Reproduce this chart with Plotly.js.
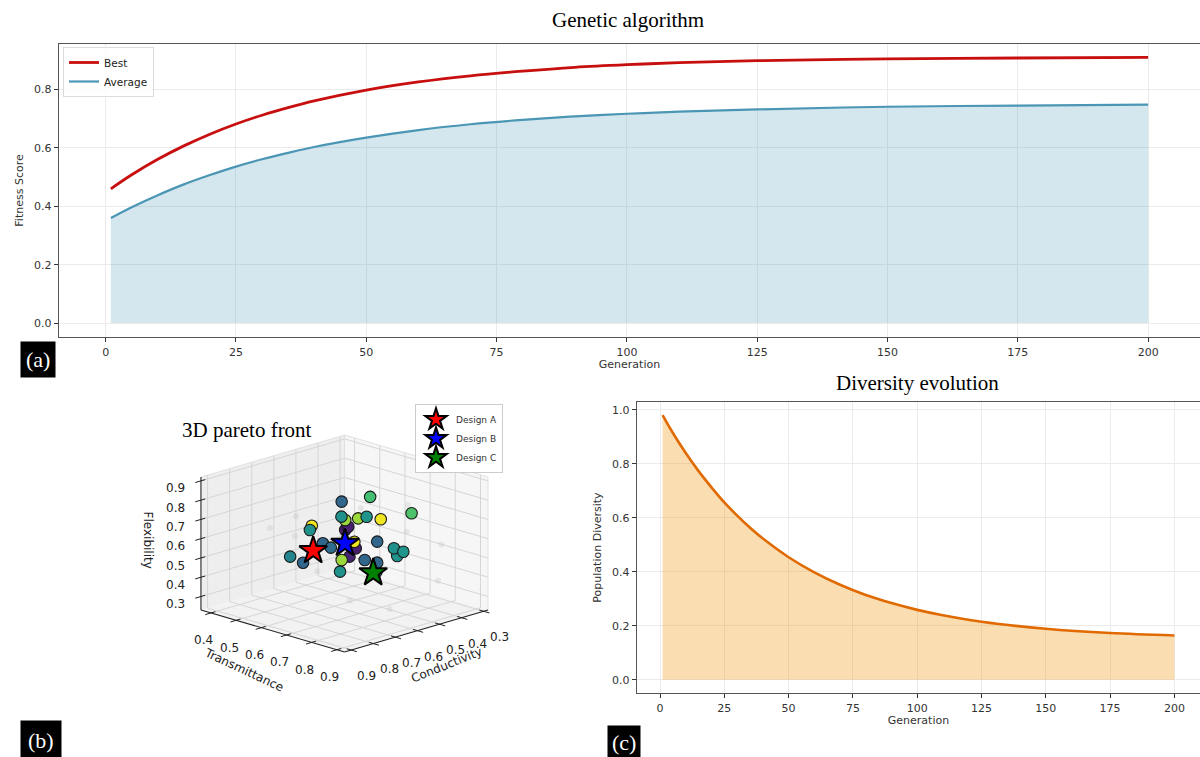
<!DOCTYPE html>
<html>
<head>
<meta charset="utf-8">
<script src="https://cdn.plot.ly/plotly-3.0.1.min.js"></script>
<style>
html,body{margin:0;padding:0;background:#fff;}
#chart{width:1200px;height:757px;}
</style>
</head>
<body>
<div id="chart"></div>
<script>
// ---------- (a) Genetic algorithm ----------
const generations = [1,5,10,15,20,25,30,35,40,50,60,70,80,90,100,110,125,150,175,200];
const bestFitness = [0.46,0.508,0.561,0.607,0.647,0.682,0.712,0.738,0.761,0.798,0.826,0.847,0.863,0.876,0.885,0.892,0.899,0.905,0.908,0.910];
const avgFitness  = [0.36,0.397,0.438,0.475,0.507,0.536,0.561,0.583,0.603,0.635,0.661,0.681,0.696,0.708,0.717,0.724,0.732,0.741,0.745,0.748];

// ---------- (c) Diversity evolution ----------
const divGenerations = [1,5,10,15,20,25,30,35,40,50,60,70,80,90,100,110,125,150,175,200];
const diversity = [0.98,0.914,0.840,0.773,0.713,0.657,0.608,0.563,0.523,0.454,0.398,0.352,0.314,0.284,0.259,0.239,0.215,0.189,0.173,0.164];

// ---------- (b) 3D pareto front ----------
const conductivity  = [0.611,0.547,0.453,0.677,0.555,0.509,0.523,0.636,0.564,0.679,0.716,0.654,0.701,0.728,0.731,0.615,0.547,0.594,0.644,0.531,0.493,0.504,0.453,0.559,0.563,0.565,0.615,0.571];
const transmittance = [0.639,0.696,0.778,0.696,0.689,0.615,0.717,0.675,0.624,0.580,0.605,0.602,0.675,0.537,0.591,0.693,0.639,0.655,0.668,0.710,0.743,0.790,0.721,0.685,0.738,0.737,0.636,0.618];
const flexibility   = [0.792,0.817,0.732,0.758,0.714,0.662,0.701,0.719,0.640,0.667,0.667,0.576,0.597,0.507,0.497,0.606,0.528,0.507,0.511,0.585,0.550,0.554,0.488,0.489,0.497,0.450,0.429,0.623];
const colorScore    = [0.33,0.70,0.72,0.50,0.52,0.85,0.98,0.85,0.08,0.98,0.50,0.33,0.35,0.45,0.33,0.98,0.08,0.10,0.85,0.33,0.50,0.52,0.50,0.33,0.33,0.55,0.50,0.08];

// faint background solutions
const bgConductivity  = [0.72,0.66,0.50,0.40,0.62,0.45,0.70,0.55,0.38,0.60,0.48];
const bgTransmittance = [0.45,0.50,0.80,0.85,0.55,0.88,0.75,0.40,0.70,0.82,0.60];
const bgFlexibility   = [0.62,0.68,0.66,0.58,0.40,0.42,0.35,0.50,0.72,0.30,0.70];

const designNames = ['Design A','Design B','Design C'];
const designColors = ['#ff0000','#0000ff','#008000'];
const designConductivity  = [0.676,0.604,0.540];
const designTransmittance = [0.583,0.646,0.702];
const designFlexibility   = [0.538,0.576,0.423];

// 3D axis setup
const cRange = [0.28,0.93], tRange = [0.36,0.93], fRange = [0.23,0.92];
const cTicks = [0.3,0.4,0.5,0.6,0.7,0.8,0.9];
const tTicks = [0.4,0.5,0.6,0.7,0.8,0.9];
const fTicks = [0.3,0.4,0.5,0.6,0.7,0.8,0.9];

const genTicks = [0,25,50,75,100,125,150,175,200];

// ---------------- helpers ----------------
const ELEV = 17*Math.PI/180, AZIM = 45*Math.PI/180, ZASPECT = 0.685;
function nrm(val, r){ return (val - r[0])/(r[1]-r[0]); }
function proj(u, v, w){
  const X = u-0.5, Y = v-0.5, Z = (w-0.5)*ZASPECT;
  const h = Math.cos(AZIM)*X + Math.sin(AZIM)*Y;
  return {
    x: -Math.sin(AZIM)*X + Math.cos(AZIM)*Y,
    y: -Math.sin(ELEV)*h + Math.cos(ELEV)*Z,
    d: Math.cos(ELEV)*h + Math.sin(ELEV)*Z
  };
}
function projData(c,t,f){ return proj(nrm(c,cRange), nrm(t,tRange), nrm(f,fRange)); }

const tickFont = {family:'DejaVu Sans, sans-serif', size:11, color:'#333'};
const titleFont = {family:'DejaVu Sans, sans-serif', size:11, color:'#333'};
const serif = 'Liberation Serif, Times New Roman, serif';

const traces = [];

// (a)
traces.push({
  x: generations, y: avgFitness, type:'scatter', mode:'lines', showlegend:false, hoverinfo:'skip',
  line:{color:'rgba(0,0,0,0)', width:0, shape:'spline'}, fill:'tozeroy', fillcolor:'rgba(46,134,171,0.2)',
  xaxis:'x', yaxis:'y'
});
traces.push({
  x: generations, y: bestFitness, type:'scatter', mode:'lines', name:'Best',
  line:{color:'#c80f0f', width:2.8, shape:'spline'}, xaxis:'x', yaxis:'y', legend:'legend'
});
traces.push({
  x: generations, y: avgFitness, type:'scatter', mode:'lines', name:'Average',
  line:{color:'#4a96b4', width:2.2, shape:'spline'}, xaxis:'x', yaxis:'y', legend:'legend'
});

// (c)
traces.push({
  x: divGenerations, y: diversity, type:'scatter', mode:'lines', name:'Diversity', showlegend:false,
  line:{color:'#e06a00', width:2.6, shape:'spline'}, fill:'tozeroy', fillcolor:'rgba(241,143,1,0.3)',
  xaxis:'x2', yaxis:'y2'
});

// (b) projected 3D scatter
const bgP = bgConductivity.map((c,i)=>projData(c,bgTransmittance[i],bgFlexibility[i]));
traces.push({
  type:'scatter', mode:'markers', xaxis:'x3', yaxis:'y3', showlegend:false,
  x: bgP.map(p=>p.x), y: bgP.map(p=>p.y),
  marker:{size:6, color:'rgba(185,185,185,0.25)'}
});
const pts = conductivity.map((c,i)=>({p:projData(c,transmittance[i],flexibility[i]), s:colorScore[i]}));
pts.sort((a,b)=>a.p.d-b.p.d);
traces.push({
  type:'scatter', mode:'markers', xaxis:'x3', yaxis:'y3', showlegend:false,
  x: pts.map(o=>o.p.x), y: pts.map(o=>o.p.y),
  marker:{size:11.5, color: pts.map(o=>o.s), colorscale:'Viridis', cmin:0, cmax:1, opacity:1,
          line:{color:'#1a1a1a', width:1.1}}
});
designNames.forEach((n,i)=>{
  const p = projData(designConductivity[i], designTransmittance[i], designFlexibility[i]);
  traces.push({
    type:'scatter', mode:'markers', name:n, xaxis:'x3', yaxis:'y3', legend:'legend2',
    x:[p.x], y:[p.y],
    marker:{symbol:'star', size:21, color:designColors[i], line:{color:'#000', width:2}}
  });
});

// shapes for the 3D box
const shapes = [];
function poly(corners, fill){
  const ps = corners.map(c=>proj(c[0],c[1],c[2]));
  const path = 'M ' + ps.map(p=>p.x+','+p.y).join(' L ') + ' Z';
  shapes.push({type:'path', xref:'x3', yref:'y3', path:path, fillcolor:fill, line:{width:0}, layer:'below'});
}
function seg(a, b, color, width){
  const p = proj(a[0],a[1],a[2]), q = proj(b[0],b[1],b[2]);
  shapes.push({type:'line', xref:'x3', yref:'y3', x0:p.x, y0:p.y, x1:q.x, y1:q.y,
    line:{color:color, width:width}, layer:'below'});
}
poly([[0,0,0],[0,1,0],[0,1,1],[0,0,1]], '#f6f6f6');   // conductivity-min pane (right)
poly([[0,0,0],[1,0,0],[1,0,1],[0,0,1]], '#eeeeee');   // transmittance-min pane (left)
poly([[0,0,0],[1,0,0],[1,1,0],[0,1,0]], '#f2f2f2');   // floor
const gridCol = '#d3d3d3';
cTicks.forEach(c=>{ const u=nrm(c,cRange);
  seg([u,0,0],[u,0,1],gridCol,0.9); seg([u,0,0],[u,1,0],gridCol,0.9); });
tTicks.forEach(t=>{ const v=nrm(t,tRange);
  seg([0,v,0],[0,v,1],gridCol,0.9); seg([0,v,0],[1,v,0],gridCol,0.9); });
fTicks.forEach(f=>{ const w=nrm(f,fRange);
  seg([0,0,w],[1,0,w],gridCol,0.9); seg([0,0,w],[0,1,w],gridCol,0.9); });
// pane outer edges (light)
seg([0,0,1],[1,0,1],'#dcdcdc',0.8); seg([0,0,1],[0,1,1],'#dcdcdc',0.8); seg([0,0,0],[0,0,1],'#dcdcdc',0.8);
seg([0,1,0],[0,1,1],'#dcdcdc',0.8);
// axis lines
seg([1,0,0],[1,0,1],'#222',1.1);
seg([1,0,0],[1,1,0],'#222',1.1);
seg([1,1,0],[0,1,0],'#222',1.1);
// tick marks
fTicks.forEach(f=>{ const w=nrm(f,fRange); seg([0.97,0,w],[1.04,0,w],'#222',1); });
tTicks.forEach(t=>{ const v=nrm(t,tRange); seg([0.97,v,0],[1.04,v,0],'#222',1); });
cTicks.forEach(c=>{ const u=nrm(c,cRange); seg([u,0.97,0],[u,1.04,0],'#222',1); });

const annotations = [];
const lblFont = {family:'DejaVu Sans, sans-serif', size:12, color:'#222'};
fTicks.forEach(f=>{ const p=proj(1.18,0,nrm(f,fRange));
  annotations.push({text:f.toFixed(1), xref:'x3', yref:'y3', x:p.x, y:p.y, showarrow:false, xanchor:'center', yanchor:'middle', font:lblFont}); });
tTicks.forEach(t=>{ const p=proj(1.05,nrm(t,tRange),-0.19);
  annotations.push({text:t.toFixed(1), xref:'x3', yref:'y3', x:p.x, y:p.y, showarrow:false, xanchor:'center', yanchor:'middle', font:lblFont}); });
cTicks.forEach(c=>{ const p=proj(nrm(c,cRange),1.11,-0.16);
  annotations.push({text:c.toFixed(1), xref:'x3', yref:'y3', x:p.x, y:p.y, showarrow:false, xanchor:'center', yanchor:'middle', font:lblFont}); });
{ const p=proj(1.37,0,0.64);
  annotations.push({text:'Flexibility', xref:'x3', yref:'y3', x:p.x, y:p.y, showarrow:false, textangle:90, xanchor:'center', yanchor:'middle', font:lblFont}); }
{ const p=proj(1.15,0.45,-0.26);
  annotations.push({text:'Transmittance', xref:'x3', yref:'y3', x:p.x, y:p.y, showarrow:false, textangle:25, xanchor:'center', yanchor:'middle', font:lblFont}); }
{ const p=proj(0.5,1.21,-0.19);
  annotations.push({text:'Conductivity', xref:'x3', yref:'y3', x:p.x, y:p.y, showarrow:false, textangle:-22, xanchor:'center', yanchor:'middle', font:lblFont}); }

annotations.push(
  {text:'Genetic algorithm', xref:'paper', yref:'paper', x:628/1200, y:1-20/757, xanchor:'center', yanchor:'middle', showarrow:false,
    font:{family:serif, size:21, color:'#000'}},
  {text:'Diversity evolution', xref:'paper', yref:'paper', x:917/1200, y:1-383/757, xanchor:'center', yanchor:'middle', showarrow:false,
    font:{family:serif, size:21, color:'#000'}},
  {text:'3D pareto front', xref:'paper', yref:'paper', x:247/1200, y:1-430/757, xanchor:'center', yanchor:'middle', showarrow:false,
    font:{family:serif, size:21, color:'#000'}},
  {text:'(a)', xref:'paper', yref:'paper', x:20/1200, y:1-359/757, xanchor:'left', yanchor:'middle', showarrow:false,
    bgcolor:'#000', font:{family:serif, size:22, color:'#fff'}, borderpad:5},
  {text:'(b)', xref:'paper', yref:'paper', x:20/1200, y:1-740/757, xanchor:'left', yanchor:'middle', showarrow:false,
    bgcolor:'#000', font:{family:serif, size:22, color:'#fff'}, borderpad:7},
  {text:'(c)', xref:'paper', yref:'paper', x:607/1200, y:1-742/757, xanchor:'left', yanchor:'middle', showarrow:false,
    bgcolor:'#000', font:{family:serif, size:22, color:'#fff'}, borderpad:4}
);

const PX = 203, CX = 344.5, CY = 543.5;
const layout = {
  width:1200, height:757, margin:{l:0,r:0,t:0,b:0},
  paper_bgcolor:'#fff', plot_bgcolor:'#fff',
  showlegend:true,
  xaxis:{domain:[59/1200,1], range:[-8.95,209.95], tickvals:genTicks, ticks:'outside', ticklen:4, tickcolor:'#333',
    showline:true, mirror:true, linecolor:'#555', linewidth:1.3, showgrid:true, gridcolor:'#ebebeb', zeroline:false,
    tickfont:tickFont, title:{text:'Generation', font:titleFont, standoff:2}, anchor:'y'},
  yaxis:{domain:[1-337/757, 1-44/757], range:[-0.0478,0.956], tickvals:[0,0.2,0.4,0.6,0.8], ticktext:['0.0','0.2','0.4','0.6','0.8'],
    ticks:'outside', ticklen:4, tickcolor:'#333', showline:true, mirror:true, linecolor:'#555', linewidth:1.3,
    showgrid:true, gridcolor:'#ebebeb', zeroline:false, tickfont:tickFont, title:{text:'Fitness Score', font:titleFont, standoff:8}, anchor:'x'},
  xaxis2:{domain:[637/1200,1], range:[-8.95,209.95], tickvals:genTicks, ticks:'outside', ticklen:4, tickcolor:'#333',
    showline:true, mirror:true, linecolor:'#555', linewidth:1.3, showgrid:true, gridcolor:'#ebebeb', zeroline:false,
    tickfont:tickFont, title:{text:'Generation', font:titleFont, standoff:2}, anchor:'y2'},
  yaxis2:{domain:[1-693/757, 1-402/757], range:[-0.049,1.029], tickvals:[0,0.2,0.4,0.6,0.8,1.0], ticktext:['0.0','0.2','0.4','0.6','0.8','1.0'],
    ticks:'outside', ticklen:4, tickcolor:'#333', showline:true, mirror:true, linecolor:'#555', linewidth:1.3,
    showgrid:true, gridcolor:'#ebebeb', zeroline:false, tickfont:tickFont, title:{text:'Population Diversity', font:titleFont, standoff:8}, anchor:'x2'},
  xaxis3:{domain:[140/1200, 520/1200], range:[(140-CX)/PX, (520-CX)/PX], visible:false, fixedrange:true, anchor:'y3'},
  yaxis3:{domain:[1-720/757, 1-380/757], range:[(CY-720)/PX, (CY-380)/PX], visible:false, fixedrange:true, anchor:'x3'},
  legend:{x:63/1200, y:1-47/757, xanchor:'left', yanchor:'top', bgcolor:'rgba(255,255,255,0.8)',
    bordercolor:'#ddd', borderwidth:1, font:{family:'DejaVu Sans, sans-serif', size:10.5, color:'#222'},
    itemwidth:30, tracegroupgap:0},
  legend2:{x:415/1200, y:1-404/757, xanchor:'left', yanchor:'top', bgcolor:'#fff',
    bordercolor:'#ccc', borderwidth:1, font:{family:'DejaVu Sans, sans-serif', size:9, color:'#333'}, itemwidth:30, tracegroupgap:0},
  shapes: shapes,
  annotations: annotations
};

Plotly.newPlot('chart', traces, layout, {displayModeBar:false, staticPlot:true});
</script>
</body>
</html>
